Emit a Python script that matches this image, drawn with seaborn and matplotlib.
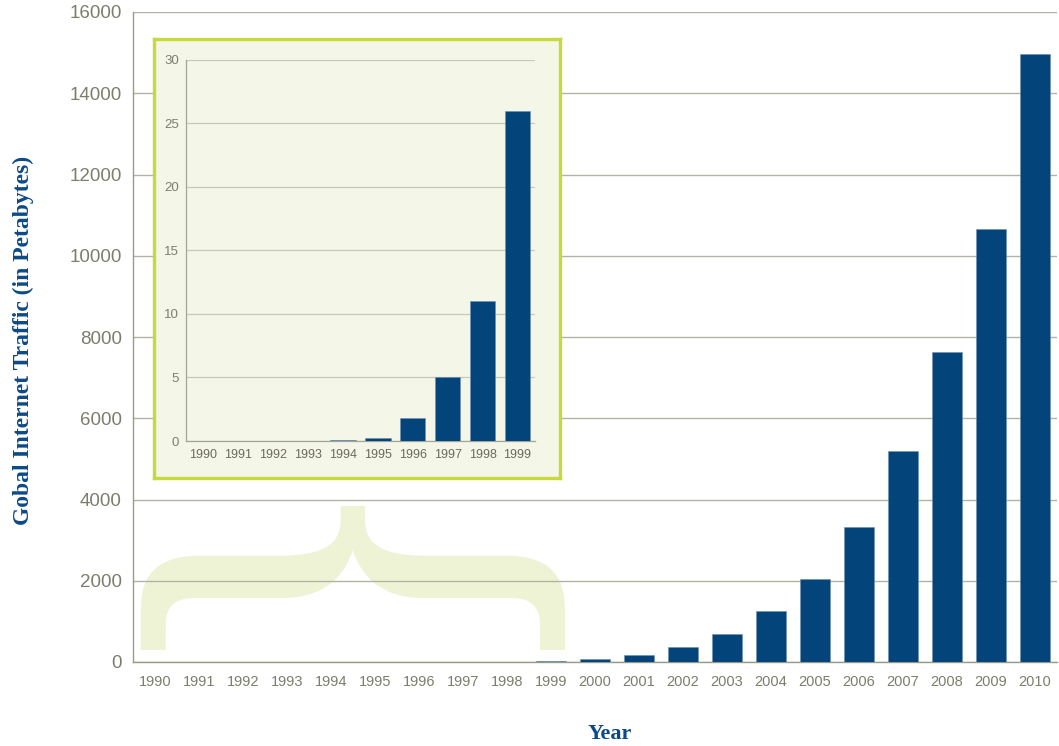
import numpy as np
import pandas as pd
import matplotlib
matplotlib.use("Agg")
import matplotlib.pyplot as plt
from matplotlib.path import Path
from matplotlib.patches import PathPatch
import seaborn as sns

# ---------------- data ----------------
years = [str(y) for y in range(1990, 2011)]
traffic = [0.001, 0.002, 0.004, 0.01, 0.1, 0.2, 1.8, 5, 11, 26,
           75, 175, 360, 680, 1265, 2050, 3328, 5196, 7622, 10655, 14955]
inset_years = years[:10]
inset_traffic = traffic[:10]
main_yticks = [0, 2000, 4000, 6000, 8000, 10000, 12000, 14000, 16000]
inset_yticks = [0, 5, 10, 15, 20, 25, 30]

BAR = "#03457b"
GRID = "#b3b3a3"
TICKC = "#7d7d6c"
LABELC = "#0b4a86"
BRACE = "#eef3d6"
INSET_BG = "#f4f6e8"
INSET_EDGE = "#c6da3c"

sns.set_theme(style="white")
plt.rcParams['font.family'] = ['Liberation Sans', 'DejaVu Sans']

W, H = 1059, 746
fig = plt.figure(figsize=(W / 100, H / 100), dpi=100)

# ---------------- main axes ----------------
ax = fig.add_axes([133 / W, 84 / H, 924 / W, 650 / H])
df = pd.DataFrame({"year": years, "traffic": traffic})
sns.barplot(data=df, x="year", y="traffic", color=BAR, saturation=1,
            width=0.66, ax=ax, zorder=3, edgecolor="#6f8fb3", linewidth=0.4)
ax.set_xlim(-0.5, len(years) - 0.5)
ax.set_ylim(0, 16000)
ax.set_yticks(main_yticks)
ax.set_yticklabels([str(v) for v in main_yticks])
ax.set_axisbelow(True)
ax.yaxis.grid(True, color=GRID, linewidth=1.0, zorder=0.5)
ax.xaxis.grid(False)
for s in ["top", "right"]:
    ax.spines[s].set_visible(False)
for s in ["left", "bottom"]:
    ax.spines[s].set_color("#9a9a8a")
    ax.spines[s].set_linewidth(1.0)
ax.tick_params(axis="y", length=0, pad=8, labelsize=13.5, labelcolor=TICKC)
ax.tick_params(axis="x", which="major", length=0, pad=9, labelsize=10.5,
               labelcolor=TICKC)
ax.set_xticks(np.arange(len(years) - 1) + 0.5, minor=True)
ax.tick_params(axis="x", which="minor", direction="inout", length=9,
               color="#9a9a8a", width=1.0)
ax.set_xlabel("")
ax.set_ylabel("Gobal Internet Traffic (in Petabytes)",
              family=["Liberation Serif", "DejaVu Serif"], fontweight="bold",
              fontsize=17, color=LABELC)
ax.yaxis.set_label_coords(-0.107, 0.494)
fig.text(610 / W, 1 - 734 / H, "Year",
         family=["Liberation Serif", "DejaVu Serif"], fontweight="bold",
         fontsize=16, color=LABELC, ha="center", va="center")

# ---------------- brace (decoration; outline in pixels -> data coords) ----------------
cx = 352.85
left = [
    (Path.MOVETO, [(140.7, 650)]),
    (Path.LINETO, [(140.7, 610)]),
    (Path.CURVE4, [(140.7, 572), (160, 555.7), (200, 555.7)]),
    (Path.LINETO, [(280, 555.7)]),
    (Path.CURVE4, [(322, 555.7), (340.7, 545), (340.7, 520)]),
    (Path.LINETO, [(340.7, 506)]),
]
inner = [
    (Path.CURVE4, [(345, 575), (325, 598), (283, 598)]),
    (Path.LINETO, [(195, 598)]),
    (Path.CURVE4, [(175, 598), (165.7, 606), (165.7, 625)]),
    (Path.LINETO, [(165.7, 650)]),
]

def mirror(p):
    return (2 * cx - p[0], p[1])

verts, codes = [], []
def add(code, pts):
    for p in pts:
        verts.append(p)
        codes.append(code)

for c, pts in left:
    add(c, pts)
# right half outer, reversed order (stem top -> right leg bottom)
add(Path.LINETO, [mirror((340.7, 506))])
add(Path.LINETO, [mirror((340.7, 520))])
add(Path.CURVE4, [mirror((340.7, 545)), mirror((322, 555.7)), mirror((280, 555.7))])
add(Path.LINETO, [mirror((200, 555.7))])
add(Path.CURVE4, [mirror((160, 555.7)), mirror((140.7, 572)), mirror((140.7, 610))])
add(Path.LINETO, [mirror((140.7, 650))])
add(Path.LINETO, [mirror((165.7, 650))])
add(Path.LINETO, [mirror((165.7, 625))])
add(Path.CURVE4, [mirror((165.7, 606)), mirror((175, 598)), mirror((195, 598))])
add(Path.LINETO, [mirror((283, 598))])
add(Path.CURVE4, [mirror((325, 598)), mirror((345, 575)), (cx, 550)])
for c, pts in inner:
    add(c, pts)
add(Path.CLOSEPOLY, [(140.7, 650)])

# pixel -> main-axes data coordinates
px_x0, px_step = 155.0, 44.0
px_y0, px_per_unit = 662.0, 650.0 / 16000
verts_d = [((x - px_x0) / px_step, (px_y0 - y) / px_per_unit) for x, y in verts]
ax.add_patch(PathPatch(Path(verts_d, codes), facecolor=BRACE,
                       edgecolor="none", zorder=0.3))

# ---------------- inset ----------------
bg = fig.add_axes([154 / W, (H - 478) / H, 406 / W, 439 / H])
bg.set_facecolor(INSET_BG)
bg.set_xticks([])
bg.set_yticks([])
for s in bg.spines.values():
    s.set_color(INSET_EDGE)
    s.set_linewidth(2.4)
bg.set_zorder(5)

ins = fig.add_axes([186 / W, (H - 441) / H, 349 / W, 381.3 / H])
ins.set_zorder(6)
ins.patch.set_alpha(0)
dfi = pd.DataFrame({"year": inset_years, "traffic": inset_traffic})
sns.barplot(data=dfi, x="year", y="traffic", color=BAR, saturation=1,
            width=0.72, ax=ins, zorder=3, edgecolor="#6f8fb3", linewidth=0.4)
ins.set_xlim(-0.5, len(inset_years) - 0.5)
ins.set_ylim(0, 30)
ins.set_yticks(inset_yticks)
ins.set_yticklabels([str(v) for v in inset_yticks])
ins.set_axisbelow(True)
ins.yaxis.grid(True, color="#c8c8b8", linewidth=0.9)
ins.xaxis.grid(False)
for s in ["top", "right"]:
    ins.spines[s].set_visible(False)
for s in ["left", "bottom"]:
    ins.spines[s].set_color("#a5a595")
    ins.spines[s].set_linewidth(0.9)
ins.tick_params(axis="y", length=0, pad=5, labelsize=9.5, labelcolor=TICKC)
ins.tick_params(axis="x", which="major", length=0, pad=6, labelsize=9,
                labelcolor="#6b6b5c")
ins.set_xticks(np.arange(len(inset_years)) + 0.5, minor=True)
ins.tick_params(axis="x", which="minor", direction="inout", length=6,
                color="#a5a595", width=0.9)
ins.set_xlabel("")
ins.set_ylabel("")

fig.savefig("out.png", dpi=100)
